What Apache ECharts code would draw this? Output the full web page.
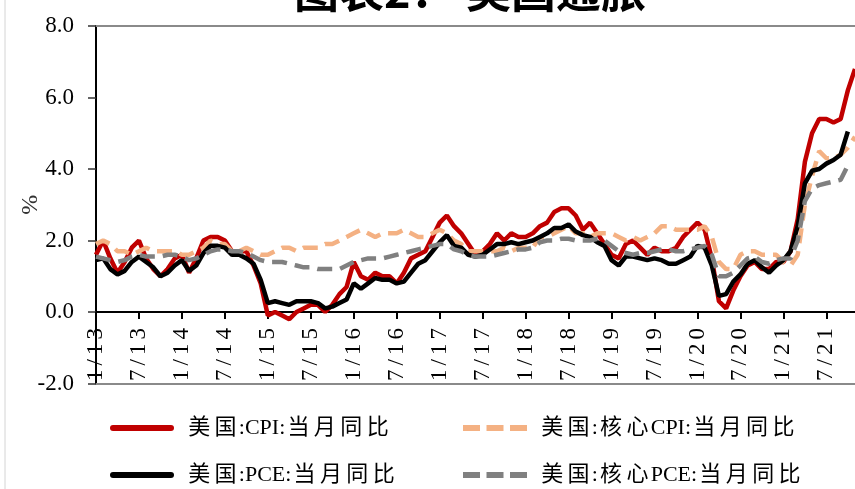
<!DOCTYPE html>
<html>
<head>
<meta charset="utf-8">
<script src="https://cdn.jsdelivr.net/npm/echarts/dist/echarts.min.js"></script>
<style>
  html, body { margin: 0; padding: 0; background: #fff; }
  #chart { width: 855px; height: 489px; }
</style>
</head>
<body>
<div id="chart"></div>
<script>
// Monthly categories, Jan 2013 .. Nov 2021, labelled "m/yy"
const startYear = 13, endYear = 21, lastMonth = 11;
const months = [];
for (let y = startYear; y <= endYear; y++) {
  for (let m = 1; m <= 12; m++) {
    if (y === endYear && m > lastMonth) break;
    months.push(m + '/' + y);
  }
}

const yTicks = [-2, 0, 2, 4, 6, 8];

// 美国:CPI:当月同比 (%), Jan 2013 .. Nov 2021
const cpi = [
  1.6, 2.0, 1.5, 1.1, 1.4, 1.8, 2.0, 1.5, 1.2, 1.0, 1.2, 1.5,
  1.6, 1.1, 1.5, 2.0, 2.1, 2.1, 2.0, 1.7, 1.7, 1.7, 1.3, 0.8,
  -0.1, 0.0, -0.1, -0.2, 0.0, 0.1, 0.2, 0.2, 0.0, 0.2, 0.5, 0.7,
  1.4, 1.0, 0.9, 1.1, 1.0, 1.0, 0.8, 1.1, 1.5, 1.6, 1.7, 2.1,
  2.5, 2.7, 2.4, 2.2, 1.9, 1.6, 1.7, 1.9, 2.2, 2.0, 2.2, 2.1,
  2.1, 2.2, 2.4, 2.5, 2.8, 2.9, 2.9, 2.7, 2.3, 2.5, 2.2, 1.9,
  1.6, 1.5, 1.9, 2.0, 1.8, 1.6, 1.8, 1.7, 1.7, 1.8, 2.1, 2.3,
  2.5, 2.3, 1.5, 0.3, 0.1, 0.6, 1.0, 1.3, 1.4, 1.2, 1.2, 1.4,
  1.4, 1.7, 2.6, 4.2, 5.0, 5.4, 5.4, 5.3, 5.4, 6.2, 6.8
];

// 美国:核心CPI:当月同比 (%), Jan 2013 .. Nov 2021
const coreCpi = [
  1.9, 2.0, 1.9, 1.7, 1.7, 1.6, 1.7, 1.8, 1.7, 1.7, 1.7, 1.7,
  1.6, 1.6, 1.7, 1.8, 2.0, 1.9, 1.9, 1.7, 1.7, 1.8, 1.7, 1.6,
  1.6, 1.7, 1.8, 1.8, 1.7, 1.8, 1.8, 1.8, 1.9, 1.9, 2.0, 2.1,
  2.2, 2.3, 2.2, 2.1, 2.2, 2.2, 2.2, 2.3, 2.2, 2.1, 2.1, 2.2,
  2.3, 2.2, 2.0, 1.9, 1.7, 1.7, 1.7, 1.7, 1.7, 1.8, 1.7, 1.8,
  1.8, 1.8, 2.1, 2.1, 2.2, 2.3, 2.4, 2.2, 2.2, 2.1, 2.2, 2.2,
  2.2, 2.1, 2.0, 2.1, 2.0, 2.1, 2.2, 2.4, 2.4, 2.3, 2.3, 2.3,
  2.3, 2.4, 2.1, 1.4, 1.2, 1.2, 1.6, 1.7, 1.7, 1.6, 1.6, 1.6,
  1.4, 1.3, 1.6, 3.0, 3.8, 4.5, 4.3, 4.3, 4.4, 4.6, 4.9
];

// 美国:PCE:当月同比 (%), Jan 2013 .. Oct 2021
const pce = [
  1.45, 1.5, 1.2, 1.05, 1.15, 1.4, 1.55, 1.4, 1.25, 1.0, 1.1, 1.3,
  1.45, 1.15, 1.3, 1.65, 1.85, 1.85, 1.8, 1.6, 1.6, 1.5, 1.35, 0.9,
  0.25, 0.3, 0.25, 0.2, 0.3, 0.3, 0.3, 0.25, 0.1, 0.15, 0.25, 0.35,
  0.8, 0.65, 0.8, 0.95, 0.9, 0.9, 0.8, 0.85, 1.1, 1.35, 1.45, 1.7,
  1.95, 2.15, 1.85, 1.8, 1.6, 1.55, 1.6, 1.75, 1.9, 1.9, 1.95, 1.9,
  1.95, 2.0, 2.1, 2.2, 2.35, 2.35, 2.45, 2.25, 2.15, 2.1, 1.95, 1.85,
  1.45, 1.3, 1.55, 1.55, 1.5, 1.45, 1.5, 1.45, 1.35, 1.35, 1.45, 1.55,
  1.85, 1.8, 1.3, 0.45, 0.5, 0.85, 1.05, 1.35, 1.45, 1.25, 1.1, 1.3,
  1.45, 1.7, 2.4, 3.6, 3.95, 4.0, 4.15, 4.25, 4.4, 5.05
];

// 美国:核心PCE:当月同比 (%), Jan 2013 .. Oct 2021
const corePce = [
  1.55, 1.5, 1.45, 1.4, 1.45, 1.55, 1.6, 1.55, 1.55, 1.55, 1.6, 1.6,
  1.55, 1.45, 1.5, 1.6, 1.7, 1.75, 1.75, 1.7, 1.7, 1.65, 1.55, 1.45,
  1.4, 1.4, 1.4, 1.35, 1.3, 1.25, 1.25, 1.2, 1.2, 1.2, 1.2, 1.3,
  1.4, 1.45, 1.5, 1.5, 1.5, 1.55, 1.6, 1.65, 1.7, 1.75, 1.8, 1.85,
  1.9, 1.9, 1.75, 1.7, 1.6, 1.55, 1.55, 1.55, 1.6, 1.65, 1.7, 1.75,
  1.75, 1.8, 1.95, 2.0, 2.0, 2.05, 2.05, 2.0, 2.0, 2.0, 2.05, 2.0,
  1.85, 1.7, 1.65, 1.6, 1.65, 1.65, 1.7, 1.75, 1.75, 1.7, 1.7, 1.75,
  1.8, 1.85, 1.6, 1.0, 1.0, 1.1, 1.3, 1.5, 1.55, 1.4, 1.35, 1.45,
  1.5, 1.5, 2.0, 3.1, 3.45, 3.55, 3.6, 3.65, 3.7, 4.1
];

const seriesNames = ['美国:CPI:当月同比', '美国:核心CPI:当月同比', '美国:PCE:当月同比', '美国:核心PCE:当月同比'];
const titleText = '图表2： 美国通胀';

const SERIF = "'Liberation Serif','Noto Sans CJK SC',serif";
const DASH = [15, 8];
const GRID_TOP = 26, GRID_BOTTOM_PX = 383.5;
const halfYear = (i) => i % 6 === 0;
// split a label into single-character runs so each run gets a little side padding
const spaced = (s, tag) => s.split('').map(c => '{' + tag + '|' + c + '}').join('');
// legend names: wide (CJK) characters get side padding, Latin runs stay tight
const spacedCjk = (s) => s.split('').map(c => (/[\u4e00-\u9fff]/.test(c) ? '{w|' + c + '}' : '{n|' + c + '}')).join('');

// legend keys: a rounded bar for solid lines, three bars for dashed lines
const ICON_SOLID = 'path://M3,0 H61 A3,3 0 0 1 61,6 H3 A3,3 0 0 1 3,0 Z';
const ICON_DASH = 'path://M0,0 H17 V6 H0 Z M23.5,0 H40.5 V6 H23.5 Z M47,0 H64 V6 H47 Z';

const chart = echarts.init(document.getElementById('chart'), null, { renderer: 'canvas' });

// the category axis sits on the zero line: shift it up from the grid bottom by the 0..min span
const yMin = yTicks[0], yMax = yTicks[yTicks.length - 1];
const plotH = GRID_BOTTOM_PX - GRID_TOP;
const zeroOffset = -plotH * (0 - yMin) / (yMax - yMin);

function legendItem(name, icon, left, top) {
  return {
    data: [{ name: name, icon: icon }],
    left: left, top: top, padding: 0,
    itemWidth: 64, itemHeight: 6,
    formatter: (n) => spacedCjk(n),
    textStyle: {
      padding: [0, 0, 0, 7],
      rich: {
        w: { fontFamily: SERIF, fontSize: 22, color: '#000', padding: [0, 2.2] },
        n: { fontFamily: SERIF, fontSize: 22, color: '#000' }
      }
    }
  };
}

chart.setOption({
  animation: false,
  backgroundColor: '#fff',
  grid: { left: 96, right: 0, top: GRID_TOP, bottom: 489 - GRID_BOTTOM_PX },
  xAxis: {
    type: 'category',
    data: months,
    boundaryGap: false,
    offset: zeroOffset,
    axisLine: { onZero: false, lineStyle: { color: '#000', width: 2 } },
    axisTick: { show: true, interval: halfYear, length: 7, lineStyle: { color: '#000', width: 2 } },
    axisLabel: {
      interval: halfYear,
      rotate: 90,
      margin: 14,
      formatter: (v) => spaced(v, 'd'),
      rich: { d: { fontFamily: SERIF, fontSize: 23, color: '#000', padding: [0, 2] } }
    },
    splitLine: { show: false }
  },
  yAxis: {
    type: 'value',
    min: yMin,
    max: yMax,
    interval: 2,
    name: '%',
    nameLocation: 'middle',
    nameRotate: 90,
    nameGap: 53,
    nameMoveOverlap: false,
    nameTextStyle: { fontFamily: SERIF, fontSize: 24, color: '#333' },
    axisLine: { show: true, lineStyle: { color: '#000', width: 2 } },
    axisTick: { show: true, length: 8, lineStyle: { color: '#333', width: 1.5 } },
    axisLabel: {
      margin: 22,
      formatter: (v) => v.toFixed(1),
      fontFamily: SERIF, fontSize: 23, color: '#000'
    },
    splitLine: { show: false }
  },
  legend: [
    legendItem(seriesNames[0], ICON_SOLID, 110, 417),
    legendItem(seriesNames[1], ICON_DASH, 463, 417),
    legendItem(seriesNames[2], ICON_SOLID, 110, 464),
    legendItem(seriesNames[3], ICON_DASH, 463, 464)
  ],
  graphic: [
    { type: 'line', shape: { x1: 5, y1: 0, x2: 5, y2: 489 }, style: { stroke: '#d4d4d4', lineWidth: 1 } },
    {
      type: 'text', x: 470, y: 13,
      style: { text: titleText, font: 'bold 45px "Noto Sans CJK SC"', fill: '#000', align: 'center', verticalAlign: 'bottom' }
    }
  ],
  series: [
    {
      name: seriesNames[0], type: 'line', data: cpi, symbol: 'none', color: '#C00000', z: 2,
      lineStyle: { color: '#C00000', width: 4.5 },
      markLine: {
        silent: true, symbol: 'none', label: { show: false },
        lineStyle: { color: '#8a8a8a', width: 2, type: 'solid' },
        data: [{ yAxis: yMax }, { yAxis: yMin }]
      }
    },
    {
      name: seriesNames[1], type: 'line', data: coreCpi, symbol: 'none', color: '#F4B183', z: 3,
      lineStyle: { color: '#F4B183', width: 4.5, type: DASH }
    },
    {
      name: seriesNames[2], type: 'line', data: pce, symbol: 'none', color: '#000000', z: 4,
      lineStyle: { color: '#000000', width: 4.5 }
    },
    {
      name: seriesNames[3], type: 'line', data: corePce, symbol: 'none', color: '#808080', z: 5,
      lineStyle: { color: '#808080', width: 4.5, type: DASH }
    }
  ]
});
</script>
</body>
</html>
